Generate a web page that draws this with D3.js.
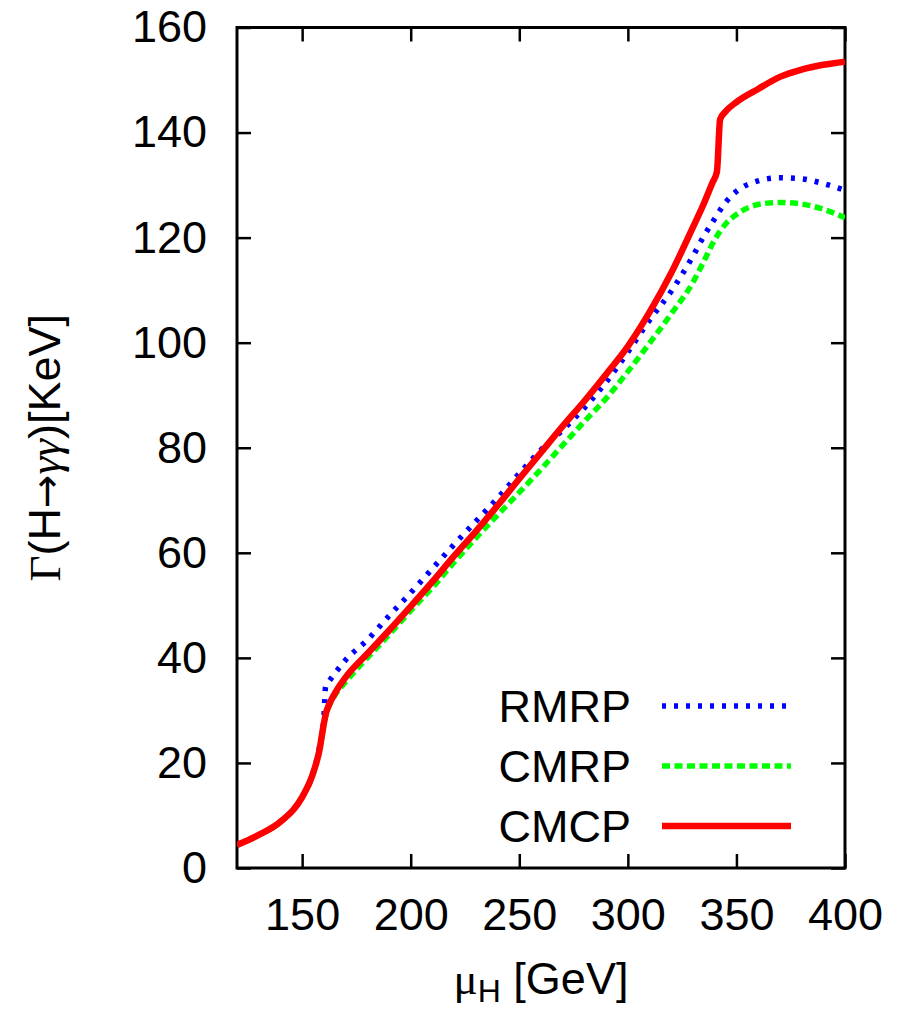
<!DOCTYPE html>
<html>
<head>
<meta charset="utf-8">
<script src="https://cdn.jsdelivr.net/npm/d3@7"></script>
<style>
  body { margin: 0; background: #fff; }
  text { font-family: "Liberation Sans", Arial, sans-serif; }
</style>
</head>
<body>
<div id="chart"></div>
<script>
    // Data
    const muRMRP = [120, 130, 140, 150, 155, 158, 160, 160.8, 162, 165, 170, 180, 190, 200, 210, 220, 230, 240, 250, 260, 270, 280, 290, 300, 310, 320, 330, 335, 340, 345, 350, 360, 370, 380, 390, 400];
    const rmrp   = [4.4, 6.3, 8.8, 13.5, 18, 23, 28.5, 34.5, 35.3, 37, 39.6, 43.4, 48, 52.4, 57, 61.6, 66, 70.4, 75.1, 79.6, 83.4, 87.6, 92.5, 98.2, 104.3, 109.8, 116.5, 120.3, 123.6, 126.7, 128.8, 130.8, 131.4, 131.2, 130.3, 129];

    const muCMRP = [120, 130, 140, 150, 155, 158, 160, 161, 162, 165, 170, 180, 190, 200, 210, 220, 230, 240, 250, 260, 270, 280, 290, 300, 310, 320, 330, 335, 340, 345, 350, 360, 370, 380, 390, 400];
    const cmrp   = [4.4, 6.3, 8.8, 13.5, 18, 22.4, 27.3, 29.2, 30.4, 32.8, 35.4, 40, 44.4, 49, 53.4, 58.2, 62.8, 67.2, 71.5, 75.9, 80.5, 85, 89.4, 94.5, 99.9, 105.5, 111.5, 115.5, 119.6, 122.6, 124.4, 126.3, 126.7, 126.4, 125.4, 123.8];

    const muCMCP = [120, 130, 140, 150, 155, 158, 160, 161, 162, 165, 170, 180, 190, 200, 210, 220, 230, 240, 250, 260, 270, 280, 290, 300, 310, 320, 330, 335, 339, 341, 342.5, 345, 350, 360, 370, 380, 390, 400];
    const cmcp   = [4.4, 6.3, 8.8, 13.5, 18, 22.5, 27.5, 29.5, 30.7, 33.2, 36.3, 40.8, 45.2, 49.8, 54.5, 59.4, 64.1, 69, 74.1, 79.1, 84.1, 88.9, 94, 99.3, 105.8, 113.3, 122, 126.5, 130.5, 132.5, 142.5, 144, 145.8, 148.3, 150.6, 152, 152.9, 153.5];

    const xTicks = [150, 200, 250, 300, 350, 400];
    const yTicks = [0, 20, 40, 60, 80, 100, 120, 140, 160];

    const seriesNames = ["RMRP", "CMRP", "CMCP"];

    // Layout
    const width = 915;
    const height = 1014;
    const margin = {top: 27.5, right: 70, bottom: 146, left: 237};
    const plotW = width - margin.left - margin.right;
    const plotH = height - margin.top - margin.bottom;
    const tickLen = 14;
    const fontSize = 45;

    const styles = [
        {color: "#0000ff", dash: "4,8", width: 5.5},
        {color: "#00ff00", dash: "8,4.5", width: 5.5},
        {color: "#ff0000", dash: null, width: 6.5}
    ];

    const svg = d3.select("#chart")
        .append("svg")
        .attr("width", width)
        .attr("height", height);

    const x = d3.scaleLinear().domain([120, 400]).range([0, plotW]);
    const y = d3.scaleLinear().domain([0, 160]).range([plotH, 0]);

    const g = svg.append("g")
        .attr("transform", "translate(" + margin.left + "," + margin.top + ")");

    g.append("clipPath").attr("id", "clip")
        .append("rect").attr("width", plotW).attr("height", plotH);

    // axes with inward ticks, mirrored on top and right
    const axisStyle = function(sel) {
        sel.select(".domain").remove();
        sel.selectAll(".tick line").attr("stroke", "#000").attr("stroke-width", 2.5);
        sel.selectAll(".tick text")
            .attr("fill", "#000")
            .style("font-size", fontSize + "px")
            .style("font-family", "'Liberation Sans', Arial, sans-serif");
    };

    g.append("g")
        .attr("transform", "translate(0," + plotH + ")")
        .call(d3.axisBottom(x).tickValues(xTicks).tickSize(-tickLen).tickPadding(30))
        .call(axisStyle);
    g.append("g")
        .call(d3.axisTop(x).tickValues(xTicks).tickSize(-tickLen).tickFormat(""))
        .call(axisStyle);
    g.append("g")
        .call(d3.axisLeft(y).tickValues(yTicks).tickSize(-tickLen).tickPadding(30))
        .call(axisStyle);
    g.append("g")
        .attr("transform", "translate(" + plotW + ",0)")
        .call(d3.axisRight(y).tickValues(yTicks).tickSize(-tickLen).tickFormat(""))
        .call(axisStyle);

    // frame
    g.append("rect")
        .attr("width", plotW)
        .attr("height", plotH)
        .attr("fill", "none")
        .attr("stroke", "#000")
        .attr("stroke-width", 3);

    // curves
    const line = d3.line()
        .x(d => x(d[0]))
        .y(d => y(d[1]))
        .curve(d3.curveMonotoneX);

    const allSeries = [
        d3.zip(muRMRP, rmrp),
        d3.zip(muCMRP, cmrp),
        d3.zip(muCMCP, cmcp)
    ];

    const curves = g.append("g").attr("clip-path", "url(#clip)");
    allSeries.forEach(function(pts, i) {
        curves.append("path")
            .attr("d", line(pts))
            .attr("fill", "none")
            .attr("stroke", styles[i].color)
            .attr("stroke-width", styles[i].width)
            .attr("stroke-dasharray", styles[i].dash);
    });

    // legend
    const legend = g.append("g")
        .attr("transform", "translate(0," + (706 - margin.top) + ")");
    seriesNames.forEach(function(name, i) {
        const row = legend.append("g").attr("transform", "translate(0," + (i * 60) + ")");
        row.append("text")
            .attr("x", 631 - margin.left)
            .attr("y", 16)
            .attr("text-anchor", "end")
            .style("font-size", fontSize + "px")
            .text(name);
        row.append("line")
            .attr("x1", 662 - margin.left)
            .attr("x2", 791 - margin.left)
            .attr("y1", 0)
            .attr("y2", 0)
            .attr("stroke", styles[i].color)
            .attr("stroke-width", styles[i].width)
            .attr("stroke-dasharray", styles[i].dash);
    });

    // axis titles
    const xTitle = svg.append("text")
        .attr("x", margin.left + plotW / 2)
        .attr("y", 994)
        .attr("text-anchor", "middle")
        .style("font-size", fontSize + "px");
    xTitle.append("tspan").style("font-family", "'Liberation Serif', serif").text("μ");
    xTitle.append("tspan").attr("dy", 8).style("font-size", "32px").text("H");
    xTitle.append("tspan").attr("dy", -8).text(" [GeV]");

    const yTitle = svg.append("text")
        .attr("transform", "translate(60," + (margin.top + plotH / 2) + ") rotate(-90)")
        .attr("text-anchor", "middle")
        .style("font-size", fontSize + "px");
    yTitle.append("tspan").style("font-family", "'Liberation Serif', serif").text("Γ");
    yTitle.append("tspan").text("(H");
    yTitle.append("tspan").style("font-family", "'DejaVu Sans', sans-serif").style("font-size", "40px").text("→");
    yTitle.append("tspan").style("font-family", "'Liberation Serif', serif").style("font-style", "italic").text("γγ");
    yTitle.append("tspan").text(")[KeV]");
</script>
</body>
</html>
